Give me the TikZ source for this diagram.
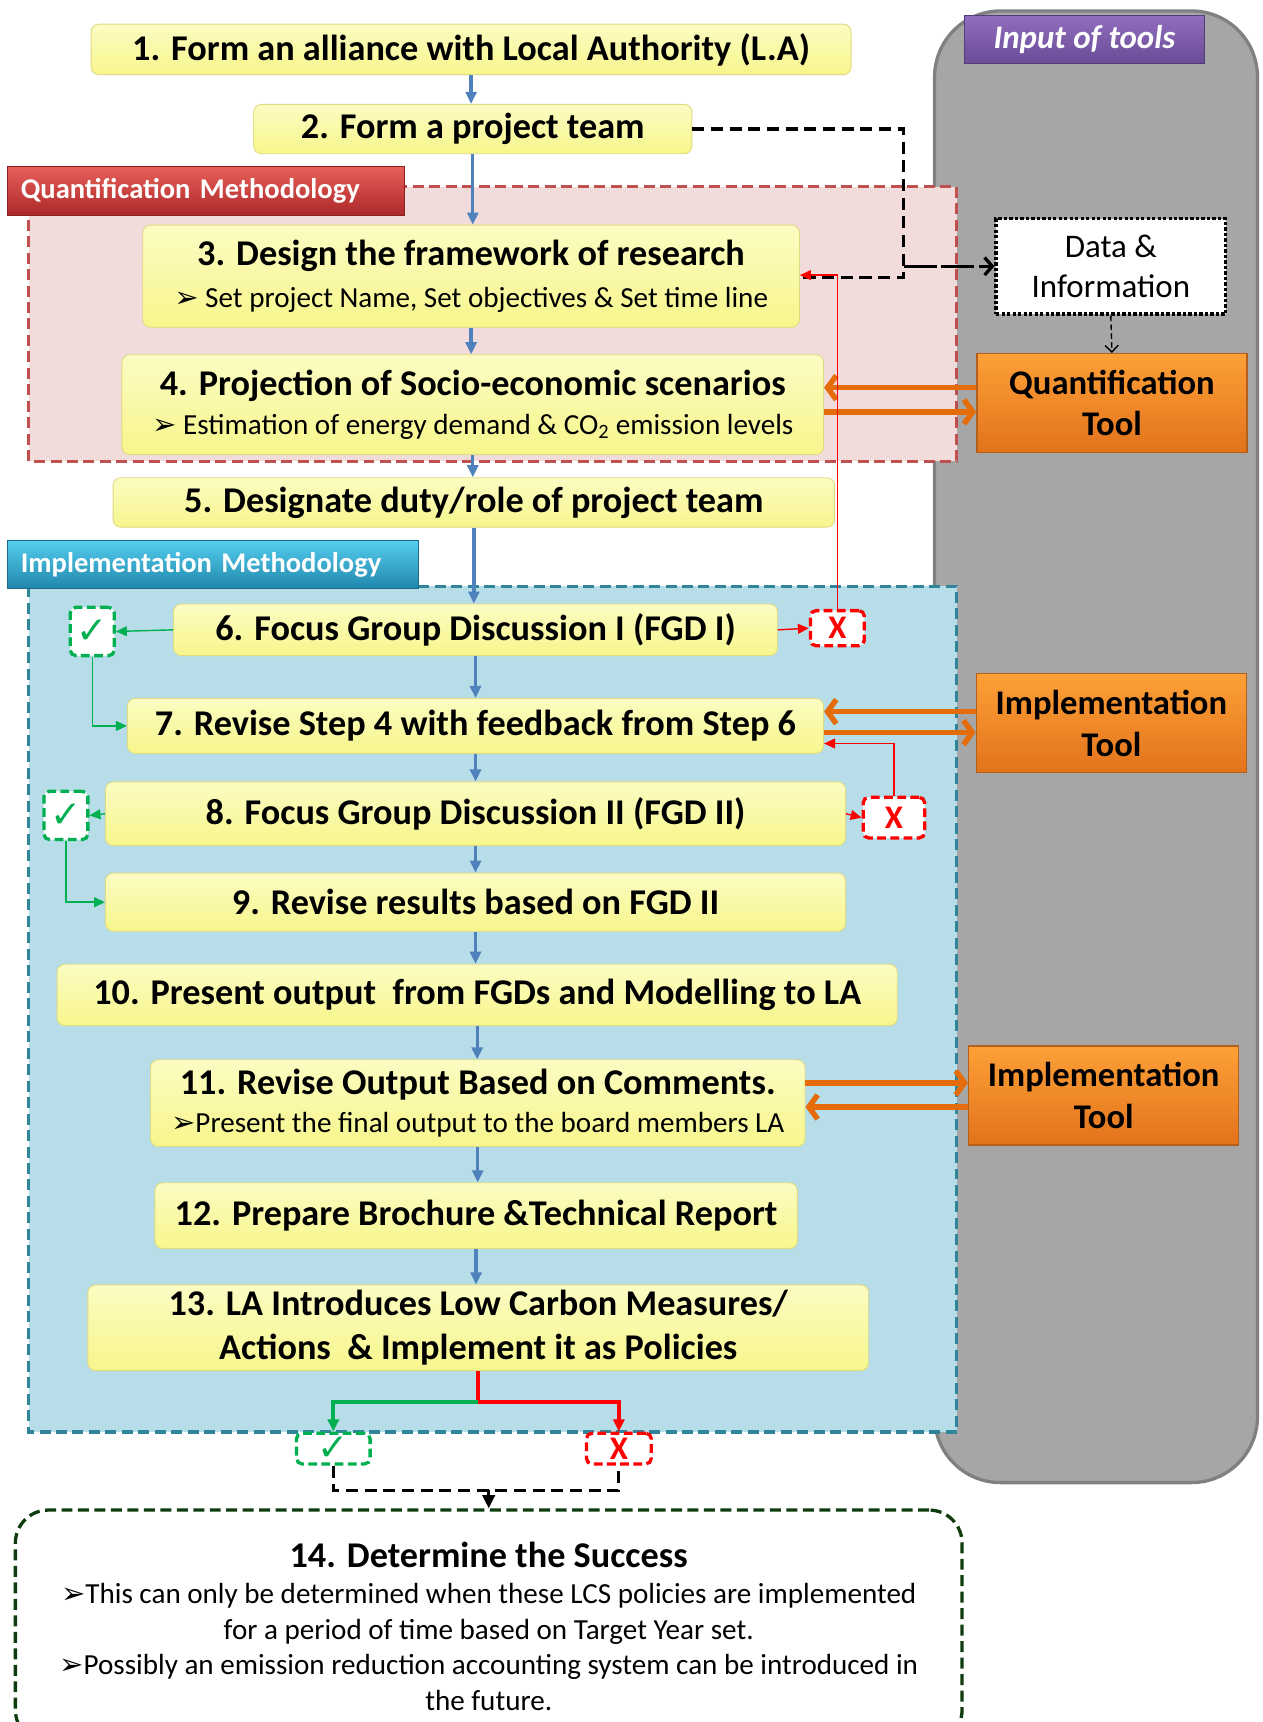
\documentclass[tikz,border=0pt]{standalone}
\usepackage{fontspec}
\setmainfont{Carlito}
\newfontfamily\symfont{DejaVu Sans}
\usetikzlibrary{positioning}
\usetikzlibrary{arrows.meta}

\definecolor{stepyel}{RGB}{247,246,140}
\definecolor{steptop}{RGB}{252,252,195}
\definecolor{stepedge}{RGB}{222,218,130}
\definecolor{flowblue}{RGB}{79,129,189}
\definecolor{tooltop}{RGB}{253,160,55}
\definecolor{toolbot}{RGB}{226,115,28}
\definecolor{tooledge}{RGB}{180,95,30}
\definecolor{arrowor}{RGB}{228,108,10}
\definecolor{panelgray}{RGB}{166,166,166}
\definecolor{paneledge}{RGB}{128,128,128}
\definecolor{quantfill}{RGB}{242,220,219}
\definecolor{quantline}{RGB}{192,80,77}
\definecolor{implfill}{RGB}{183,222,232}
\definecolor{implline}{RGB}{49,133,155}
\definecolor{okgreen}{RGB}{0,176,80}
\definecolor{nored}{RGB}{255,0,0}
\definecolor{endgreen}{RGB}{15,60,15}
\definecolor{inputtop}{RGB}{145,110,190}
\definecolor{inputbot}{RGB}{105,75,150}
\definecolor{quanttop}{RGB}{232,95,90}
\definecolor{quantbot}{RGB}{172,40,40}
\definecolor{impltop}{RGB}{85,205,238}
\definecolor{implbot}{RGB}{32,135,172}

\newcommand{\bul}{{\symfont\bfseries ➢}}
\newcommand{\subtxt}[1]{{\mdseries\fontsize{26.5}{31}\selectfont #1}}

\begin{document}
\begin{tikzpicture}[x=1pt,y=-1pt,
    stepbox/.style={rounded corners=7pt, top color=steptop, bottom color=stepyel,
      draw=stepedge, line width=0.8pt, inner sep=0pt, align=center,
      font=\fontsize{33}{37}\selectfont\bfseries},
    toolbox/.style={top color=tooltop, bottom color=toolbot, draw=tooledge,
      line width=1.2pt, inner sep=0pt, align=center,
      minimum width=246pt, minimum height=90pt,
      font=\fontsize{31.5}{38}\selectfont\bfseries},
    tag/.style 2 args={draw=#2!80!black, line width=1pt, top color=#1,
      bottom color=#2, text=white, inner xsep=12pt, inner ysep=0pt,
      minimum height=44pt, align=left, font=\fontsize{26}{30}\selectfont\bfseries},
    okbox/.style={draw=okgreen, fill=white, text=okgreen, line width=3pt,
      dash pattern=on 8pt off 4pt, rounded corners=5pt, inner sep=0pt,
      font=\symfont\fontsize{34}{34}\selectfont},
    nobox/.style={draw=nored, fill=white, text=nored, line width=3pt,
      dash pattern=on 8pt off 4pt, rounded corners=5pt, inner sep=0pt,
      font=\fontsize{30}{30}\selectfont\bfseries},
    flow/.style={draw=flowblue, line width=3pt, -{Triangle[length=11pt,width=10pt]}},
    thinok/.style={draw=okgreen, line width=1.3pt, -{Triangle[length=10pt,width=9pt]}},
    thinno/.style={draw=nored, line width=1.3pt, -{Triangle[length=10pt,width=9pt]}},
    orarr/.style={draw=arrowor, line width=5pt, -{Straight Barb[length=8pt,width=22pt]}},
    blackdash/.style={draw=black, line width=3pt, dash pattern=on 11pt off 6pt}]

\useasboundingbox (0,0) rectangle (1150,1568);
\clip (0,0) rectangle (1150,1568);

% tools panel and the two methodology regions
\draw[draw=paneledge, fill=panelgray, line width=3pt, rounded corners=60pt] (851,10) rectangle (1145,1350);
\draw[draw=quantline, fill=quantfill, line width=3pt, dash pattern=on 10pt off 5pt] (26,170) rectangle (871,420);
\draw[draw=implline, fill=implfill, line width=3pt, dash pattern=on 10pt off 5pt] (26,534) rectangle (871,1304);

% region titles
\node[tag={inputtop}{inputbot}, minimum width=219pt, inner xsep=0pt, align=center, font=\fontsize{30}{34}\selectfont\bfseries\itshape] (inputtag) at (987.5,36) {Input of tools};
\node[tag={quanttop}{quantbot}, text width=337pt] (quanttag) at (187.5,174) {Quantification Methodology};
\node[tag={impltop}{implbot}, text width=350pt] (impltag) at (194,514) {Implementation Methodology};

% steps
\node[stepbox, minimum width=692pt, minimum height=46pt] (step1) at (429,45) {1. Form an alliance with Local Authority (L.A)};
\node[stepbox, minimum width=399pt, minimum height=45pt] (step2) at (430.5,117.5) {2. Form a project team};
\node[stepbox, minimum width=598pt, minimum height=93pt] (step3) at (429,251.5) {3. Design the framework of research\\[2pt]\subtxt{\bul\ Set project Name, Set objectives \& Set time line}};
\node[stepbox, minimum width=639pt, minimum height=91pt] (step4) at (430.5,368.5) {4. Projection of Socio-economic scenarios\\[-1pt]\subtxt{\bul\ Estimation of energy demand \& CO\textsubscript{2} emission levels}};
\node[stepbox, minimum width=657pt, minimum height=45pt] (step5) at (431.5,457.5) {5. Designate duty/role of project team};
\node[stepbox, minimum width=550pt, minimum height=47pt] (step6) at (433,573.5) {6. Focus Group Discussion I (FGD I)};
\node[stepbox, minimum width=634pt, minimum height=50pt] (step7) at (433,661) {7. Revise Step 4 with feedback from Step 6};
\node[stepbox, minimum width=674pt, minimum height=58pt] (step8) at (433,741) {8. Focus Group Discussion II (FGD II)};
\node[stepbox, minimum width=674pt, minimum height=53pt] (step9) at (433,821.5) {9. Revise results based on FGD II};
\node[stepbox, minimum width=765pt, minimum height=56pt] (step10) at (434.5,906) {10. Present output~ from FGDs and Modelling to LA};
\node[stepbox, minimum width=596pt, minimum height=79pt] (step11) at (435,1004.5) {11. Revise Output Based on Comments.\\[-2pt]\subtxt{\bul Present the final output to the board members LA}};
\node[stepbox, minimum width=585pt, minimum height=60pt] (step12) at (433.5,1107) {12. Prepare Brochure \&Technical Report};
\node[stepbox, minimum width=711pt, minimum height=78pt] (step13) at (435.5,1209) {13. LA Introduces Low Carbon Measures/\\[3pt]Actions~ \& Implement it as Policies};
\node[draw=endgreen, line width=3pt, dash pattern=on 10pt off 5pt, rounded corners=30pt, fill=white,
  minimum width=862pt, minimum height=212pt, align=center, font=\fontsize{26.5}{32.5}\selectfont] (step14) at (445,1481)
  {{\fontsize{33}{36}\selectfont\bfseries 14. Determine the Success}\\[0pt]
   \bul This can only be determined when these LCS policies are implemented\\
   for a period of time based on Target Year set.\\
   \bul Possibly an emission reduction accounting system can be introduced in\\
   the future.};

% tools
\node[draw=black, line width=3pt, dash pattern=on 3pt off 2pt, fill=white, minimum width=209pt, minimum height=87pt,
  align=center, font=\fontsize{30}{37}\selectfont] (data) at (1011.5,242.5) {Data \&\\Information};
\node[toolbox] (qtool) at (1012.5,367) {Quantification\\Tool};
\node[toolbox] (itool1) at (1012,658.5) {Implementation\\Tool};
\node[toolbox] (itool2) at (1005,997.5) {Implementation\\Tool};

% feedback boxes
\node[okbox, minimum width=40pt, minimum height=44pt] (ok6) at (84,575) {✓};
\node[nobox, minimum width=49pt, minimum height=32pt] (no6) at (762.5,572) {X};
\node[okbox, minimum width=40pt, minimum height=44pt] (ok8) at (60,742.5) {✓};
\node[nobox, minimum width=56pt, minimum height=37pt] (no8) at (814,744.5) {X};
\node[okbox, minimum width=67pt, minimum height=28pt] (okend) at (303.5,1319) {✓};
\node[nobox, minimum width=59pt, minimum height=28pt] (noend) at (563.5,1319) {X};

% main flow
\foreach \a/\b in {1/2,2/3,3/4,4/5,5/6,6/7,7/8,8/9,9/10,10/11,11/12,12/13} {
  \draw[flow] (step\a.south) -- (step\a.south |- step\b.north);
}

% data input
\coordinate (dj) at (823,242.5);
\draw[blackdash] (step2.east) -| (dj) |- ([yshift=-1pt]step3.east);
\draw[blackdash, dash pattern=on 30pt off 4pt, -{Straight Barb[length=7pt,width=16pt]}] (dj) -- (data.west);
\draw[line width=1.3pt, dash pattern=on 5pt off 3pt, -{Straight Barb[length=6pt,width=12pt]}] (data.south) -- (qtool.north);

% tool exchanges
\draw[orarr] ([yshift=14pt]qtool.west) -- ([yshift=15.5pt]step4.east);
\draw[orarr] ([yshift=-6.5pt]step4.east) -- ([yshift=-8pt]qtool.west);
\draw[orarr] ([yshift=10.5pt]itool1.west) -- ([yshift=13pt]step7.east);
\draw[orarr] ([yshift=-6pt]step7.east) -- ([yshift=-8.5pt]itool1.west);
\draw[orarr] ([yshift=18.5pt]step11.east) -- ([yshift=11.5pt]itool2.west);
\draw[orarr] ([yshift=-10.5pt]itool2.west) -- ([yshift=-3.5pt]step11.east);

% FGD outcomes
\draw[thinok] (step6.west) -- (ok6.east);
\draw[thinok] (ok6.south) |- (step7.west);
\draw[thinno] (step6.east) -- (no6.west);
\draw[thinno] (no6.north) |- ([yshift=1pt]step3.east);
\draw[thinok] (step8.west) -- (ok8.east);
\draw[thinok] (ok8.south) |- (step9.west);
\draw[thinno] (step8.east) -- (no8.west);
\draw[thinno] (no8.north) |- ([yshift=-16pt]step7.east);

% final split
\coordinate (sp) at ([yshift=-28pt]step13.south);
\draw[draw=nored, line width=3.5pt] (step13.south) -- (sp);
\draw[draw=okgreen, line width=3.5pt, -{Triangle[length=11pt,width=10pt]}] (sp) -| (okend.north);
\draw[draw=nored, line width=3.5pt, -{Triangle[length=11pt,width=10pt]}] (sp) -| (noend.north);
\coordinate (mj) at (445,1357);
\draw[blackdash] (okend.south) |- (mj) -| (noend.south);
\draw[line width=3pt, dash pattern=on 8pt off 4pt, -{Triangle[length=12pt,width=11pt]}] (mj) -- (step14.north);

\end{tikzpicture}
\end{document}
